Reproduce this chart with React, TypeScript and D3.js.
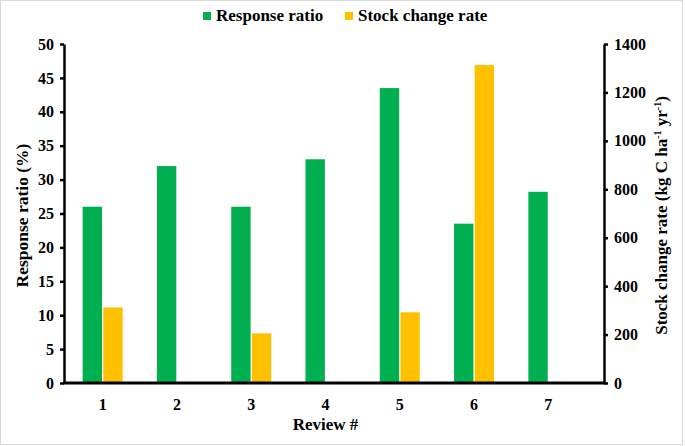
import { useRef, useEffect } from 'react';
import * as d3 from 'd3';

const reviews = ['1', '2', '3', '4', '5', '6', '7'];
const responseRatio = [26, 32, 26, 33, 43.5, 23.5, 28.2];
const stockChangeRate = [312, 0, 205, 0, 292, 1313, 0];
const leftTicks = [0, 5, 10, 15, 20, 25, 30, 35, 40, 45, 50];
const rightTicks = [0, 200, 400, 600, 800, 1000, 1200, 1400];
const seriesNames = ['Response ratio', 'Stock change rate'];
const seriesColors = ['#00B050', '#FFC000'];

const W = 685;
const H = 446;
const FONT = 'Liberation Serif, Times New Roman, DejaVu Serif, serif';

const App = () => {
  const svgRef = useRef<SVGSVGElement>(null);

  useEffect(() => {
    document.body.style.margin = '0';
    const svg = d3.select(svgRef.current);
    svg.selectAll('*').remove();

    const left = 64;
    const right = 604;
    const top = 44;
    const bottom = 383;

    // light frame around the whole chart
    svg.append('rect')
      .attr('x', 0.5).attr('y', 0.5)
      .attr('width', W - 3).attr('height', H - 2)
      .attr('fill', '#fff')
      .attr('stroke', '#d9d9d9');

    const x = d3.scaleBand<string>()
      .domain(reviews)
      .range([65.5, 585.5]);

    const sub = d3.scaleBand<string>()
      .domain(seriesNames)
      .range([-20, 20])
      .paddingInner(0.06);

    const yL = d3.scaleLinear().domain([0, 50]).range([bottom, top]);
    const yR = d3.scaleLinear().domain([0, 1400]).range([bottom, top]);

    const g = svg.append('g');

    // bars
    g.selectAll('rect.rr')
      .data(responseRatio)
      .enter()
      .append('rect')
      .attr('class', 'rr')
      .attr('x', (d, i) => x(reviews[i])! + x.bandwidth() / 2 + sub(seriesNames[0])!)
      .attr('y', d => yL(d))
      .attr('width', sub.bandwidth())
      .attr('height', d => bottom - yL(d))
      .attr('fill', seriesColors[0]);

    g.selectAll('rect.sc')
      .data(stockChangeRate)
      .enter()
      .append('rect')
      .attr('class', 'sc')
      .attr('x', (d, i) => x(reviews[i])! + x.bandwidth() / 2 + sub(seriesNames[1])!)
      .attr('y', d => yR(d))
      .attr('width', sub.bandwidth())
      .attr('height', d => bottom - yR(d))
      .attr('fill', seriesColors[1]);

    const styleText = (sel: any, size = 16) =>
      sel.style('font-family', FONT).style('font-size', `${size}px`).style('font-weight', 'bold').attr('fill', '#000');

    // left axis
    const axL = svg.append('g')
      .attr('transform', `translate(${left},0)`)
      .call(d3.axisLeft(yL).tickValues(leftTicks).tickFormat(d3.format('d')).tickSize(4).tickSizeOuter(0).tickPadding(6));
    axL.select('.domain').attr('stroke', '#000').attr('stroke-width', 2.5);
    axL.selectAll('.tick line').attr('stroke', '#000').attr('stroke-width', 2.5);
    styleText(axL.selectAll('.tick text'));

    // right axis
    const axR = svg.append('g')
      .attr('transform', `translate(${right},0)`)
      .call(d3.axisRight(yR).tickValues(rightTicks).tickFormat(d3.format('d')).tickSize(4).tickSizeOuter(0).tickPadding(6));
    axR.select('.domain').attr('stroke', '#000').attr('stroke-width', 2.5);
    axR.selectAll('.tick line').attr('stroke', '#000').attr('stroke-width', 2.5);
    styleText(axR.selectAll('.tick text'));

    // bottom axis
    const axB = svg.append('g')
      .attr('transform', `translate(0,${bottom})`)
      .call(d3.axisBottom(x).tickSize(0).tickPadding(16));
    axB.select('.domain').remove();
    styleText(axB.selectAll('.tick text'));
    svg.append('line')
      .attr('x1', left - 1).attr('x2', right + 1)
      .attr('y1', bottom).attr('y2', bottom)
      .attr('stroke', '#000').attr('stroke-width', 3);

    // axis titles
    styleText(svg.append('text')
      .attr('transform', `translate(28,${(top + bottom) / 2 + 2}) rotate(-90)`)
      .attr('text-anchor', 'middle')
      .text('Response ratio (%)'), 17.5);

    const rt = styleText(svg.append('text')
      .attr('transform', `translate(667,${(top + bottom) / 2 + 2}) rotate(-90)`)
      .attr('text-anchor', 'middle'), 17);
    rt.append('tspan').text('Stock change rate (kg C ha');
    rt.append('tspan').attr('dy', -6).style('font-size', '10px').text('-1');
    rt.append('tspan').attr('dy', 6).text(' yr');
    rt.append('tspan').attr('dy', -6).style('font-size', '10px').text('-1');
    rt.append('tspan').attr('dy', 6).text(')');

    styleText(svg.append('text')
      .attr('x', (x(reviews[0])! + x(reviews[6])! + x.bandwidth()) / 2)
      .attr('y', 430)
      .attr('text-anchor', 'middle')
      .text('Review #'), 17);

    // legend
    const legendX = [203, 345];
    seriesNames.forEach((name, i) => {
      svg.append('rect')
        .attr('x', legendX[i]).attr('y', 12)
        .attr('width', 8).attr('height', 8)
        .attr('fill', seriesColors[i]);
      styleText(svg.append('text')
        .attr('x', legendX[i] + 13).attr('y', 21)
        .text(name), 17);
    });
  }, []);

  return <svg ref={svgRef} width={W} height={H} style={{ display: 'block' }}></svg>;
};

export default App;
